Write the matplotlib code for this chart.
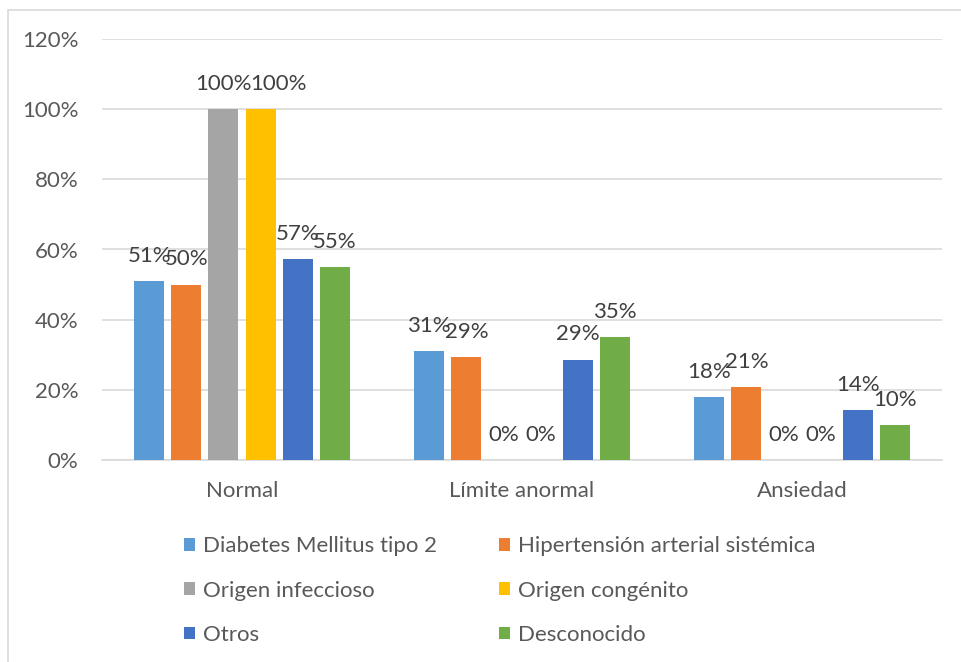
import numpy as np
import matplotlib.pyplot as plt
from matplotlib.patches import Rectangle

categorias = ["Normal", "Límite anormal", "Ansiedad"]
series = ["Diabetes Mellitus tipo 2", "Hipertensión arterial sistémica",
          "Origen infeccioso", "Origen congénito", "Otros", "Desconocido"]
diabetes = [0.51, 0.31, 0.18]
hipertension = [0.50, 0.293, 0.208]
infeccioso = [1.00, 0.0, 0.0]
congenito = [1.00, 0.0, 0.0]
otros = [0.573, 0.286, 0.143]
desconocido = [0.55, 0.35, 0.10]
valores = [diabetes, hipertension, infeccioso, congenito, otros, desconocido]
colores = ["#5b9bd5", "#ed7d31", "#a5a5a5", "#ffc000", "#4472c4", "#70ad47"]
yticks = [0, 0.2, 0.4, 0.6, 0.8, 1.0, 1.2]

plt.rcParams['font.family'] = ['Lato', 'DejaVu Sans']
TXT = "#595959"
FS = 16

fig = plt.figure(figsize=(9.61, 6.62), dpi=100)
W, H = 961, 662
ax = fig.add_axes([102 / W, 1 - 460 / H, 840 / W, 421 / H])

# marco del gráfico
fig.patches.append(Rectangle((8 / W, -0.05), 1.0, 1 - 10 / H + 0.05,
                             transform=fig.transFigure, fill=False,
                             edgecolor="#d9d9d9", lw=1.2))

# etiqueta desplazada a la derecha para que no pise a la vecina
desplaza = {(3, 0): 13}

x = np.arange(len(categorias))
paso, ancho = 0.1325, 0.107
for i, (vals, col, nom) in enumerate(zip(valores, colores, series)):
    pos = x + (i - 2.5) * paso
    ax.bar(pos, vals, width=ancho, color=col, label=nom, zorder=3)
    for j, (px, v) in enumerate(zip(pos, vals)):
        ax.annotate("%d%%" % round(v * 100), (px, v),
                    xytext=(desplaza.get((i, j), 0), 11),
                    textcoords="offset points", ha="center", va="bottom",
                    fontsize=FS, color="#404040")

ax.set_xlim(-0.5, 2.5)
ax.set_ylim(0, 1.2)
ax.set_yticks(yticks)
ax.set_yticklabels(["%d%%" % round(t * 100) for t in yticks], fontsize=FS, color=TXT)
ax.set_xticks(x)
ax.set_xticklabels(categorias, fontsize=FS, color=TXT)
ax.tick_params(length=0)
ax.tick_params(axis="x", pad=15)
ax.tick_params(axis="y", pad=17)
ax.grid(axis="y", color="#d9d9d9", lw=1.2, zorder=0)
for s in ["top", "right", "left"]:
    ax.spines[s].set_visible(False)
ax.spines["bottom"].set_color("#d9d9d9")
ax.spines["bottom"].set_linewidth(1.2)

# leyenda en dos columnas, llenada por filas
orden = [0, 2, 4, 1, 3, 5]
hs, ls = ax.get_legend_handles_labels()
fig.legend([hs[k] for k in orden], [ls[k] for k in orden], ncol=2,
           loc="upper left", bbox_to_anchor=(173 / W, 1 - 525 / H),
           frameon=False, fontsize=FS, labelcolor=TXT, borderpad=0,
           handlelength=0.5, handleheight=0.5, handletextpad=0.35,
           columnspacing=2.8, labelspacing=1.1)

fig.savefig("out.png", dpi=100)
